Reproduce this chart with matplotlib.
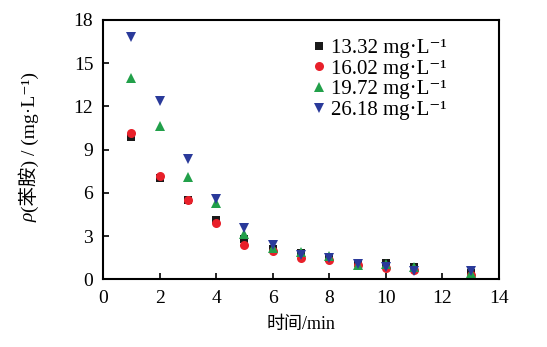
import matplotlib
matplotlib.use("Agg")
import matplotlib.pyplot as plt

t = [1, 2, 3, 4, 5, 6, 7, 8, 9, 10, 11, 13]
c1332 = [9.9, 7.0, 5.5, 4.12, 2.8, 2.08, 1.8, 1.46, 1.15, 1.11, 0.87, 0.45]
c1602 = [10.17, 7.17, 5.5, 3.89, 2.38, 1.98, 1.46, 1.34, 0.99, 0.76, 0.65, 0.3]
c1972 = [13.95, 10.66, 7.12, 5.27, 3.14, 2.15, 1.87, 1.62, 0.99, 1.06, 0.87, 0.42]
c2618 = [16.8, 12.4, 8.35, 5.57, 3.54, 2.38, 1.69, 1.46, 1.06, 0.83, 0.6, 0.58]
labels = ["13.32 mg·L⁻¹", "16.02 mg·L⁻¹", "19.72 mg·L⁻¹", "26.18 mg·L⁻¹"]
xticks = [0, 2, 4, 6, 8, 10, 12, 14]
yticks = [0, 3, 6, 9, 12, 15, 18]

plt.rcParams['font.family'] = ['Liberation Serif', 'Noto Sans CJK SC', 'DejaVu Serif']

fig = plt.figure(figsize=(5.47, 3.47), dpi=100)
ax = fig.add_axes([0.1883, 0.1951, 0.7239, 0.7473])

series = [
    (c1332, 's', '#1a1a1a', 6.0),
    (c1602, 'o', '#e8202a', 6.5),
    (c1972, '^', '#22a04a', 7.0),
    (c2618, 'v', '#2a3a9a', 7.0),
]
for (vals, m, col, ms), lab in zip(series, labels):
    ax.plot(t, vals, linestyle='none', marker=m, color=col, markersize=ms, label=lab, markeredgewidth=0)

ax.set_xlim(0, 14)
ax.set_ylim(0, 18)
ax.set_xticks(xticks)
ax.set_yticks(yticks)
ax.tick_params(direction='in', length=4, width=1.2, labelsize=14, top=False, right=False)
ax.tick_params(axis='x', pad=8)
ax.tick_params(axis='y', pad=7)
for sp in ax.spines.values():
    sp.set_linewidth(1.5)

ax.set_xlabel('时间/min', fontsize=13, labelpad=6)

leg = ax.legend(loc='upper right', frameon=False, fontsize=15, handlelength=0.6, handletextpad=0.3,
                labelspacing=0.05, borderaxespad=0.3, bbox_to_anchor=(0.905, 0.985))

# y label composed of italic rho plus the rest
rest = fig.text(0.053, 0.59, '(苯胺) / (mg·L⁻¹)', rotation=90, ha='center', va='center', fontsize=14)
fig.canvas.draw()
bb = rest.get_window_extent().transformed(fig.transFigure.inverted())
fig.text(0.053, bb.y0, 'ρ', rotation=90, ha='center', va='top', fontsize=14, style='italic')

fig.savefig('out.png', dpi=100)
